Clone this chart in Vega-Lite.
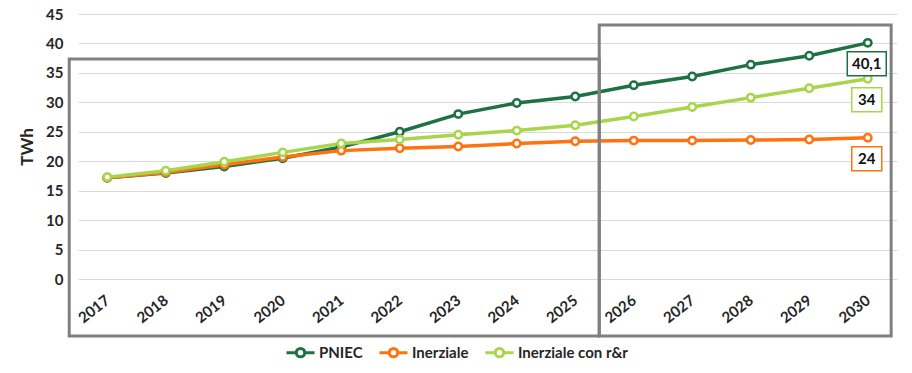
{
  "$schema": "https://vega.github.io/schema/vega-lite/v6.json",
  "width": 819,
  "height": 265,
  "autosize": {"type": "none"},
  "padding": {"left": 78, "top": 14, "right": 15, "bottom": 94},
  "background": "white",
  "config": {"view": {"stroke": null}, "font": "Lato"},
  "datasets": {
    "series": [
      {"series": "PNIEC", "year": 2017, "value": 17.2},
      {"series": "PNIEC", "year": 2018, "value": 18.0},
      {"series": "PNIEC", "year": 2019, "value": 19.1},
      {"series": "PNIEC", "year": 2020, "value": 20.5},
      {"series": "PNIEC", "year": 2021, "value": 22.4},
      {"series": "PNIEC", "year": 2022, "value": 25.0},
      {"series": "PNIEC", "year": 2023, "value": 28.0},
      {"series": "PNIEC", "year": 2024, "value": 29.9},
      {"series": "PNIEC", "year": 2025, "value": 31.0},
      {"series": "PNIEC", "year": 2026, "value": 32.9},
      {"series": "PNIEC", "year": 2027, "value": 34.4},
      {"series": "PNIEC", "year": 2028, "value": 36.4},
      {"series": "PNIEC", "year": 2029, "value": 37.9},
      {"series": "PNIEC", "year": 2030, "value": 40.1},
      {"series": "Inerziale", "year": 2017, "value": 17.2},
      {"series": "Inerziale", "year": 2018, "value": 18.1},
      {"series": "Inerziale", "year": 2019, "value": 19.4},
      {"series": "Inerziale", "year": 2020, "value": 20.7},
      {"series": "Inerziale", "year": 2021, "value": 21.8},
      {"series": "Inerziale", "year": 2022, "value": 22.2},
      {"series": "Inerziale", "year": 2023, "value": 22.5},
      {"series": "Inerziale", "year": 2024, "value": 23.0},
      {"series": "Inerziale", "year": 2025, "value": 23.4},
      {"series": "Inerziale", "year": 2026, "value": 23.5},
      {"series": "Inerziale", "year": 2027, "value": 23.5},
      {"series": "Inerziale", "year": 2028, "value": 23.6},
      {"series": "Inerziale", "year": 2029, "value": 23.7},
      {"series": "Inerziale", "year": 2030, "value": 24.0},
      {"series": "Inerziale con r&r", "year": 2017, "value": 17.3},
      {"series": "Inerziale con r&r", "year": 2018, "value": 18.4},
      {"series": "Inerziale con r&r", "year": 2019, "value": 19.9},
      {"series": "Inerziale con r&r", "year": 2020, "value": 21.5},
      {"series": "Inerziale con r&r", "year": 2021, "value": 23.0},
      {"series": "Inerziale con r&r", "year": 2022, "value": 23.7},
      {"series": "Inerziale con r&r", "year": 2023, "value": 24.5},
      {"series": "Inerziale con r&r", "year": 2024, "value": 25.2},
      {"series": "Inerziale con r&r", "year": 2025, "value": 26.1},
      {"series": "Inerziale con r&r", "year": 2026, "value": 27.6},
      {"series": "Inerziale con r&r", "year": 2027, "value": 29.2},
      {"series": "Inerziale con r&r", "year": 2028, "value": 30.8},
      {"series": "Inerziale con r&r", "year": 2029, "value": 32.4},
      {"series": "Inerziale con r&r", "year": 2030, "value": 34.0}
    ],
    "frames": [
      {"year": 2016.35, "year_end": 2025.41, "value": 37.35, "value_end": -9.68},
      {"year": 2025.41, "year_end": 2030.4, "value": 43.13, "value_end": -9.68}
    ],
    "labels": [
      {"series": "PNIEC", "year": 2030, "value": 40.1, "label": "40,1"},
      {"series": "Inerziale", "year": 2030, "value": 24.0, "label": "24"},
      {"series": "Inerziale con r&r", "year": 2030, "value": 34.0, "label": "34"}
    ]
  },
  "encoding": {
    "x": {
      "field": "year",
      "type": "quantitative",
      "scale": {"domain": [2016.5, 2030.5], "nice": false, "zero": false},
      "axis": {
        "title": null,
        "values": [2017, 2018, 2019, 2020, 2021, 2022, 2023, 2024, 2025, 2026, 2027, 2028, 2029, 2030],
        "format": "d",
        "grid": false,
        "domain": false,
        "ticks": false,
        "labelAngle": -38,
        "labelAlign": "right",
        "labelBaseline": "middle",
        "labelPadding": 19,
        "labelFontSize": 15,
        "labelFontWeight": "bold",
        "labelColor": "#262626",
        "labelOverlap": false
      }
    },
    "y": {
      "field": "value",
      "type": "quantitative",
      "scale": {"domain": [0, 45], "nice": false},
      "axis": {
        "title": "TWh",
        "values": [0, 5, 10, 15, 20, 25, 30, 35, 40, 45],
        "titleFontSize": 17,
        "titleFontWeight": "bold",
        "titleColor": "#262626",
        "titlePadding": 9,
        "labelFontSize": 15,
        "labelFontWeight": "bold",
        "labelColor": "#262626",
        "labelPadding": 15,
        "labelOverlap": false,
        "ticks": false,
        "domain": false,
        "gridColor": "#d9d9d9",
        "gridWidth": 1
      }
    }
  },
  "layer": [
    {
      "data": {"name": "series"},
      "mark": {
        "type": "line",
        "strokeWidth": 3.5,
        "point": {"filled": false, "fill": "white", "size": 55, "strokeWidth": 2.5}
      },
      "encoding": {
        "color": {
          "field": "series",
          "type": "nominal",
          "sort": ["PNIEC", "Inerziale", "Inerziale con r&r"],
          "scale": {
            "domain": ["PNIEC", "Inerziale", "Inerziale con r&r"],
            "range": ["#1D7145", "#FF7210", "#A8D54B"]
          },
          "legend": {
            "title": null,
            "orient": "none",
            "direction": "horizontal",
            "legendX": 207,
            "legendY": 323,
            "symbolType": "M-1,0H-0.3M0.3,0H1M-0.3,0A0.3,0.3 0 1 0 0.3,0A0.3,0.3 0 1 0 -0.3,0",
            "symbolSize": 784,
            "symbolStrokeWidth": 3,
            "symbolFillColor": "white",
            "labelFontSize": 15,
            "labelFontWeight": "bold",
            "labelColor": "#262626",
            "labelOffset": 3,
            "columnPadding": 10
          }
        }
      }
    },
    {
      "data": {"name": "frames"},
      "mark": {"type": "rect", "fill": null, "fillOpacity": 0, "stroke": "#808080", "strokeWidth": 3},
      "encoding": {
        "x2": {"field": "year_end"},
        "y2": {"field": "value_end"}
      }
    },
    {
      "data": {"name": "labels"},
      "mark": {"type": "point", "filled": true, "fill": "white", "opacity": 1, "strokeWidth": 1.5, "size": 1521, "xOffset": -1, "yOffset": 21},
      "encoding": {
        "stroke": {
          "field": "series",
          "type": "nominal",
          "scale": {
            "domain": ["PNIEC", "Inerziale", "Inerziale con r&r"],
            "range": ["#1D7145", "#FF7210", "#A8D54B"]
          },
          "legend": null
        },
        "shape": {
          "condition": {"test": "datum.series === 'PNIEC'", "value": "M-1,-0.615H1V0.615H-1Z"},
          "value": "M-0.77,-0.615H0.77V0.615H-0.77Z"
        }
      }
    },
    {
      "data": {"name": "labels"},
      "mark": {"type": "text", "fontSize": 15, "fontWeight": "bold", "color": "#111111", "xOffset": -1, "yOffset": 21, "baseline": "middle", "align": "center"},
      "encoding": {
        "text": {"field": "label"}
      }
    }
  ]
}
